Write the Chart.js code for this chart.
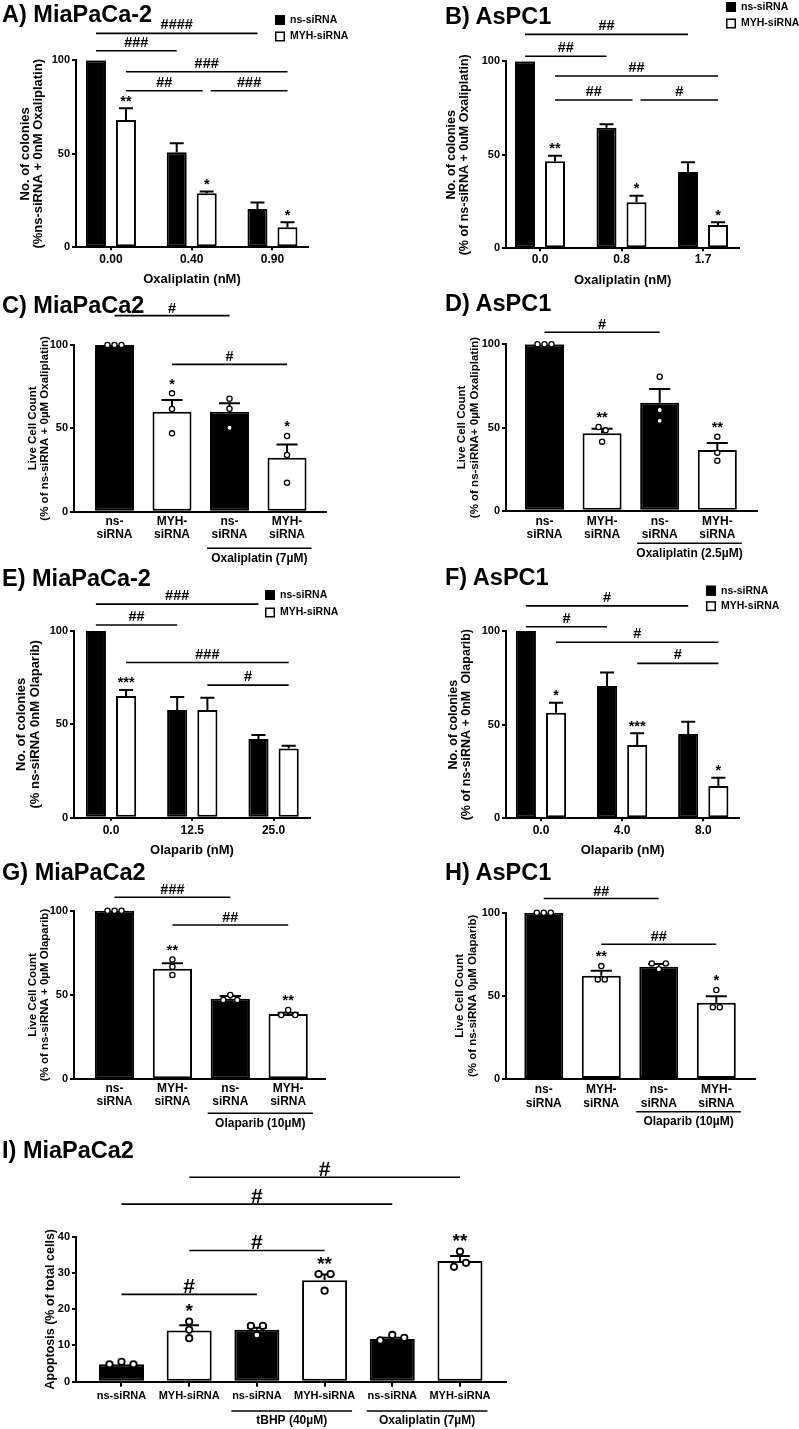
<!DOCTYPE html>
<html>
<head>
<meta charset="utf-8">
<script src="https://cdn.jsdelivr.net/npm/chart.js@4.4.1/dist/chart.umd.min.js"></script>
<style>
  body { margin: 0; background: #fff; width: 799px; height: 1429px; position: relative; overflow: hidden; }
  canvas { position: absolute; }
  .ttl { position: absolute; font-family: 'Liberation Sans', Arial, sans-serif; font-weight: bold; font-size: 23.5px; line-height: 24px; white-space: nowrap; color: #000; }
</style>
</head>
<body>
<script>
const FAM = "'Liberation Sans', Arial, Helvetica, sans-serif"

// ---- data ----
const seriesNames = ['ns-siRNA', 'MYH-siRNA']

// A) MiaPaCa-2 colonies, oxaliplatin
const doseA = ['0.00', '0.40', '0.90']
const nsA = [100, 50.8, 20.5]
const nsSemA = [0, 4.8, 3.4]
const myhA = [68.1, 28.9, 10.7]
const myhSemA = [6.2, 0.9, 2.7]
const starsA = ['**', '*', '*']
const sigA = [[[0, 0], [0, 2], 114.4, '####'], [[0, 0], [0, 1], 105.1, '###'], [[1, 0], [1, 2], 93.9, '###'], [[1, 0], [1, 1], 83.7, '##'], [[1, 1], [1, 2], 83.7, '###']]

// B) AsPC1 colonies, oxaliplatin
const doseB = ['0.0', '0.8', '1.7']
const nsB = [100, 64.5, 40.8]
const nsSemB = [0, 1.8, 5.2]
const myhB = [46.5, 24.6, 12.5]
const myhSemB = [3, 3.5, 1.4]
const starsB = ['**', '*', '*']
const sigB = [[[0, 0], [0, 2], 114.4, '##'], [[0, 0], [0, 1], 102.7, '##'], [[1, 0], [1, 2], 92.1, '##'], [[1, 0], [1, 1], 79.3, '##'], [[1, 1], [1, 2], 79.3, '#']]

// C / D / G / H live cell counts
const cellLabels = [['ns-', 'siRNA'], ['MYH-', 'siRNA'], ['ns-', 'siRNA'], ['MYH-', 'siRNA']]

const meanC = [100, 60, 60, 32.3]
const semC = [0, 7, 5, 8]
const dotsC = [[100, 100, 100], [71, 61.6, 47], [67.8, 61.8, 50.4], [45.4, 34, 17.4]]
const starsC = ['', '*', '', '*']
const sigC = [[0, 2, 117.6, '#'], [1, 3, 88.4, '#']]

const meanD = [100, 46.5, 64.9, 36.5]
const semD = [0, 2.8, 8.2, 4.2]
const dotsD = [[100, 100, 100], [50.3, 41.5, 48.3], [80.5, 60.5, 54], [44.5, 34.9, 30]]
const starsD = ['', '**', '', '**']
const sigD = [[0, 2, 107.2, '#']]

// E) MiaPaCa-2 colonies, olaparib
const doseE = ['0.0', '12.5', '25.0']
const nsE = [100, 57.7, 42.1]
const nsSemE = [0, 6.9, 2.2]
const myhE = [65.2, 57.7, 37.1]
const myhSemE = [3.2, 6.6, 1.5]
const starsE = ['***', '', '']
const sigE = [[[0, 0], [0, 2], 114.4, '###'], [[0, 0], [0, 1], 103.2, '##'], [[1, 0], [1, 2], 83.1, '###'], [[1, 1], [1, 2], 71, '#']]

// F) AsPC1 colonies, olaparib
const doseF = ['0.0', '4.0', '8.0']
const nsF = [100, 70.6, 45]
const nsSemF = [0, 7.2, 6.6]
const myhF = [56.4, 39.1, 17.3]
const myhSemF = [5.3, 6.3, 4.4]
const starsF = ['*', '***', '*']
const sigF = [[[0, 0], [0, 2], 113.4, '#'], [[0, 0], [0, 1], 102.3, '#'], [[1, 0], [1, 2], 94, '#'], [[1, 1], [1, 2], 82.7, '#']]

const meanG = [100, 65.6, 47.8, 38.7]
const semG = [0, 3.2, 1.6, 0.8]
const dotsG = [[100, 100, 100], [71.1, 66.8, 61.9], [47, 50, 47], [38.1, 41.1, 38.1]]
const starsG = ['', '**', '', '**']
const sigG = [[0, 2, 108, '###'], [1, 3, 91.5, '##']]

const meanH = [100, 62.1, 67.5, 45.9]
const semH = [0, 3, 1.6, 3.8]
const dotsH = [[100, 100, 100], [67.9, 59.9, 59.9], [69.5, 66, 69.5], [53.5, 43.1, 43.1]]
const starsH = ['', '**', '', '*']
const sigH = [[0, 2, 108.5, '##'], [1, 3, 81, '##']]

// I) apoptosis
const groupsI = ['ns-siRNA', 'MYH-siRNA', 'ns-siRNA', 'MYH-siRNA', 'ns-siRNA', 'MYH-siRNA']
const meanI = [4.8, 14.1, 14.3, 28, 11.8, 33.3]
const semI = [0, 1.5, 0.6, 1.6, 0.3, 1.4]
const dotsI = [[4.8, 5.5, 4.8], [16.6, 14.3, 12], [15.4, 12.9, 15.4], [29.7, 25.1, 29.7], [11.4, 12.9, 12.1], [31.7, 35.9, 32.8]]
const starsI = ['', '*', '', '**', '', '**']
const sigI = [[1, 5, 56.4, '#'], [0, 4, 49, '#'], [1, 3, 36.2, '#'], [0, 2, 24.1, '#']]
const treatI = [[2, 3, 'tBHP (40µM)'], [4, 5, 'Oxaliplatin (7µM)']]

// ---- helpers ----
function fnt(size, lh) {
    return { family: FAM, size: size, weight: 'bold', lineHeight: lh || 1.2 }
}

function barAt(chart, r) {
    const [d, i] = Array.isArray(r) ? r : [0, r]
    return chart.getDatasetMeta(d).data[i]
}

// beeswarm like layout for the replicate dots of one bar
function swarm(vals, ys, o) {
    const pts = vals.map((v, k) => ({ v, k, py: ys.getPixelForValue(v), dx: 0 }))
    const sorted = [...pts].sort((a, b) => a.py - b.py)
    const bins = []
    sorted.forEach(pt => {
        const last = bins[bins.length - 1]
        if (last && pt.py - last[last.length - 1].py < o.thr) last.push(pt)
        else bins.push([pt])
    })
    bins.forEach(bin => {
        if (bin.length === 2) {
            bin.sort((a, b) => a.k - b.k)
            bin[0].dx = -o.sp / 2
            bin[1].dx = o.sp / 2
        } else if (bin.length >= 3) {
            const med = [...bin].sort((a, b) => a.v - b.v)[1].v
            let c = bin[0]
            bin.forEach(pt => { if (Math.abs(pt.v - med) > Math.abs(c.v - med)) c = pt })
            const rest = bin.filter(pt => pt !== c).sort((a, b) => a.k - b.k)
            rest[0].dx = -o.sp
            rest[1].dx = o.sp
        }
    })
    return pts
}

function marks(p) {
    return {
        id: 'marks',
        afterDatasetsDraw(chart) {
            const ctx = chart.ctx
            const ys = chart.scales.y
            const area = chart.chartArea
            const [L, T] = p.box
            ctx.save()
            ctx.strokeStyle = '#000'
            ctx.fillStyle = '#000'
            const tops = new Map()

            // SEM (upper part only)
            chart.data.datasets.forEach((ds, d) => {
                const sem = p.sem[d]
                chart.getDatasetMeta(d).data.forEach((bar, i) => {
                    let top = bar.y
                    if (sem[i] > 0) {
                        const ey = ys.getPixelForValue(ds.data[i] + sem[i])
                        const cap = bar.width * p.cap
                        ctx.lineWidth = 2
                        ctx.beginPath()
                        ctx.moveTo(bar.x, bar.y)
                        ctx.lineTo(bar.x, ey)
                        ctx.moveTo(bar.x - cap, ey)
                        ctx.lineTo(bar.x + cap, ey)
                        ctx.stroke()
                        top = ey - 1
                    }
                    tops.set(d + ':' + i, top)
                })
            })

            // replicate dots
            if (p.dots) {
                p.dots.forEach((vals, i) => {
                    const bar = barAt(chart, i)
                    swarm(vals, ys, p.dot).forEach(pt => {
                        ctx.beginPath()
                        ctx.arc(bar.x + pt.dx, pt.py, p.dot.r, 0, Math.PI * 2)
                        ctx.fillStyle = '#fff'
                        ctx.fill()
                        ctx.lineWidth = p.dot.lw
                        ctx.strokeStyle = '#000'
                        ctx.stroke()
                        const k = '0:' + i
                        tops.set(k, Math.min(tops.get(k), pt.py - p.dot.r - p.dot.lw / 2))
                    })
                })
            }

            ctx.fillStyle = '#000'
            ctx.strokeStyle = '#000'
            ctx.textAlign = 'center'

            // asterisks
            ctx.textBaseline = 'alphabetic'
            ctx.font = `bold ${p.starSize}px ${FAM}`
            p.stars.forEach((arr, d) => arr.forEach((s, i) => {
                if (!s) return
                const bar = chart.getDatasetMeta(d).data[i]
                ctx.fillText(s, bar.x, tops.get(d + ':' + i) - p.starGap)
            }))

            // # comparison lines
            const key = r => String(Array.isArray(r) ? r : [0, r])
            ctx.font = `bold ${p.hashSize}px ${FAM}`
            ctx.lineWidth = 1.6
            p.sig.forEach(([a, b, level, txt], n) => {
                const shared = r => p.sig.some(([a2, b2, l2], m) => m !== n && l2 === level && (key(a2) === key(r) || key(b2) === key(r)))
                const x1 = barAt(chart, a).x + (shared(a) ? 4 : 0)
                const x2 = barAt(chart, b).x - (shared(b) ? 4 : 0)
                const y = ys.getPixelForValue(level)
                ctx.beginPath()
                ctx.moveTo(x1, y)
                ctx.lineTo(x2, y)
                ctx.stroke()
                ctx.fillText(txt, (x1 + x2) / 2, y - p.hashGap)
            })

            // treatment brackets under the labels
            if (p.treat) {
                ctx.font = `bold 12px ${FAM}`
                ctx.textBaseline = 'middle'
                ctx.lineWidth = 1.6
                p.treat.forEach(([a, b, txt]) => {
                    const ba = barAt(chart, a)
                    const bb = barAt(chart, b)
                    const x1 = ba.x - ba.width / 2 - 3
                    const x2 = bb.x + bb.width / 2 + 5
                    const y = area.bottom + p.treatOff
                    ctx.beginPath()
                    ctx.moveTo(x1, y)
                    ctx.lineTo(x2, y)
                    ctx.stroke()
                    ctx.fillText(txt, (x1 + x2) / 2, y + 10)
                })
            }

            // y axis title
            ctx.font = `bold ${p.yTitleSize}px ${FAM}`
            ctx.textBaseline = 'middle'
            const cy = (area.top + area.bottom) / 2
            p.yTitle.forEach((line, k) => {
                ctx.save()
                ctx.translate(p.yTitleX[k] - L, cy)
                ctx.rotate(-Math.PI / 2)
                ctx.fillText(line, 0, 0)
                ctx.restore()
            })

            // legend
            if (p.legend) {
                const lx = p.legend[0] - L
                const ly = p.legend[1] - T
                ctx.font = `bold 10.5px ${FAM}`
                ctx.textAlign = 'left'
                chart.data.datasets.forEach((ds, d) => {
                    const y = ly + d * (p.legendGap || 16.5)
                    ctx.fillStyle = ds.backgroundColor
                    ctx.fillRect(lx, y - 5, 10, 10)
                    ctx.lineWidth = 1.5
                    ctx.strokeRect(lx + 0.75, y - 4.25, 8.5, 8.5)
                    ctx.fillStyle = '#000'
                    ctx.fillText(ds.label, lx + 15, y)
                })
            }
            ctx.restore()
        }
    }
}

function grouped(ns, myh) {
    return [
        { label: seriesNames[0], data: ns, backgroundColor: '#000' },
        { label: seriesNames[1], data: myh, backgroundColor: '#fff' }
    ]
}

function single(vals, cats) {
    const first = c => Array.isArray(c) ? c[0] : c
    return [{ data: vals, backgroundColor: cats.map(c => first(c).startsWith('ns') ? '#000' : '#fff') }]
}

function panel(p) {
    const [L, T, W, H] = p.box
    const [l, t, r, b] = p.area
    const cv = document.createElement('canvas')
    cv.width = W
    cv.height = H
    cv.style.left = L + 'px'
    cv.style.top = T + 'px'
    cv.style.width = W + 'px'
    cv.style.height = H + 'px'
    document.body.appendChild(cv)

    const xH = p.xTitle ? p.xTitleY - b + 6.5 : 40
    p.datasets.forEach(ds => Object.assign(ds, {
        borderColor: '#000', borderWidth: 2, borderSkipped: false,
        categoryPercentage: p.cat, barPercentage: p.barPct
    }))

    new Chart(cv, {
        type: 'bar',
        data: { labels: p.cats.map((c, i) => i), datasets: p.datasets },
        options: {
            responsive: false,
            animation: false,
            events: [],
            layout: { padding: { left: 0, top: t - T, right: L + W - r, bottom: T + H - b - xH } },
            plugins: { legend: { display: false }, tooltip: { enabled: false } },
            scales: {
                x: {
                    type: 'linear',
                    min: p.xr[0],
                    max: p.xr[1],
                    offset: false,
                    afterBuildTicks: s => { s.ticks = p.cats.map((c, i) => ({ value: i })) },
                    afterFit: s => { s.height = xH },
                    ticks: {
                        callback: v => p.cats[v],
                        autoSkip: false, maxRotation: 0, minRotation: 0,
                        padding: p.xPad, font: fnt(p.xTickSize || 12, 1.1), color: '#000'
                    },
                    grid: {
                        offset: false, drawOnChartArea: false,
                        drawTicks: p.xTick > 0, tickLength: p.xTick, color: '#000', lineWidth: 2
                    },
                    border: { color: '#000', width: 2 },
                    title: p.xTitle
                        ? { display: true, text: p.xTitle, font: fnt(13, 1), padding: 0, color: '#000' }
                        : { display: false }
                },
                y: {
                    min: 0,
                    max: p.yMax,
                    afterFit: s => { s.width = l - L },
                    ticks: { stepSize: p.yStep, padding: 2, font: fnt(11), color: '#000' },
                    grid: { drawOnChartArea: false, tickLength: 4, color: '#000', lineWidth: 2 },
                    border: { color: '#000', width: 2 }
                }
            }
        },
        plugins: [marks(p)]
    })
}

const groupedStyle = { cat: 0.743, barPct: 0.667, cap: 0.35, yMax: 100, yStep: 50, xTick: 3, starSize: 14.5, starGap: 1.5, hashSize: 14.5, hashGap: 4 }
const cellStyle = { cat: 1, barPct: 0.678, cap: 0.27, yMax: 100, yStep: 50, xTick: 0, starSize: 14.5, starGap: 1.5, hashSize: 14.5, hashGap: 3, yTitleSize: 11.5, dot: { r: 2.6, lw: 1.3, thr: 6, sp: 7 } }

panel({ ...groupedStyle, box: [0, 0, 400, 290], area: [76, 60.3, 308, 247.3], xr: [-0.433, 2.44],
    cats: doseA, datasets: grouped(nsA, myhA), sem: [nsSemA, myhSemA], stars: [[], starsA], sig: sigA,
    yTitle: ['No. of colonies', '(%ns-siRNA + 0nM Oxaliplatin)'], yTitleX: [25, 38], yTitleSize: 13,
    xTitle: 'Oxaliplatin (nM)', xTitleY: 279, xPad: 2.5, legend: [275, 20] })

panel({ ...groupedStyle, box: [400, 0, 399, 290], area: [506, 61.3, 739.3, 248.3], xr: [-0.417, 2.445], cat: 0.736,
    cats: doseB, datasets: grouped(nsB, myhB), sem: [nsSemB, myhSemB], stars: [[], starsB], sig: sigB,
    yTitle: ['No. of colonies', '(% of ns-siRNA + 0uM Oxaliplatin)'], yTitleX: [451.7, 465], yTitleSize: 12.5,
    xTitle: 'Oxaliplatin (nM)', xTitleY: 280, xPad: 1.5, legend: [726, 7] })

panel({ ...cellStyle, box: [0, 290, 400, 280], area: [74, 345, 326, 511.7], xr: [-0.704, 3.678],
    cats: cellLabels, datasets: single(meanC, cellLabels), sem: [semC], stars: [starsC], dots: dotsC, sig: sigC,
    yTitle: ['Live Cell Count', '(% of ns-siRNA + 0µM Oxaliplatin)'], yTitleX: [33.3, 45],
    xPad: 3.5, treat: [[2, 3, 'Oxaliplatin (7µM)']], treatOff: 36.6 })

panel({ ...cellStyle, box: [400, 290, 399, 280], area: [506, 344.3, 756.7, 510.7], xr: [-0.668, 3.684],
    cats: cellLabels, datasets: single(meanD, cellLabels), sem: [semD], stars: [starsD], dots: dotsD, sig: sigD,
    yTitle: ['Live Cell Count', '(% of ns-siRNA+ 0µM Oxaliplatin)'], yTitleX: [461.7, 475],
    xPad: 4.5, treat: [[2, 3, 'Oxaliplatin (2.5µM)']], treatOff: 32.6 })

panel({ ...groupedStyle, box: [0, 565, 400, 295], area: [74, 631, 310, 817.7], xr: [-0.455, 2.448],
    cats: doseE, datasets: grouped(nsE, myhE), sem: [nsSemE, myhSemE], stars: [[], starsE], sig: sigE,
    yTitle: ['No. of colonies', '(% ns-siRNA 0nM Olaparib)'], yTitleX: [21.7, 35], yTitleSize: 13,
    xTitle: 'Olaparib (nM)', xTitleY: 850, xPad: 3.5, legend: [265, 595], legendGap: 17.5 })

panel({ ...groupedStyle, box: [400, 565, 399, 295], area: [506, 631, 739.3, 818.3], xr: [-0.431, 2.444],
    cats: doseF, datasets: grouped(nsF, myhF), sem: [nsSemF, myhSemF], stars: [[], starsF], sig: sigF,
    yTitle: ['No. of colonies', '(% of ns-siRNA + 0nM  Olaparib)'], yTitleX: [453.3, 466.7], yTitleSize: 12.5,
    xTitle: 'Olaparib (nM)', xTitleY: 850, xPad: 3.2, legend: [706, 590.7], legendGap: 15.5 })

panel({ ...cellStyle, box: [0, 860, 400, 280], area: [74, 910.7, 325, 1079.3], xr: [-0.7, 3.636],
    cats: cellLabels, datasets: single(meanG, cellLabels), sem: [semG], stars: [starsG], dots: dotsG, sig: sigG,
    yTitle: ['Live Cell Count', '(% of ns-siRNA + 0µM Olaparib)'], yTitleX: [33.3, 44.8],
    xPad: 2.5, treat: [[2, 3, 'Olaparib (10µM)']], treatOff: 34 })

panel({ ...cellStyle, box: [400, 860, 399, 280], area: [506, 912.7, 755, 1079], xr: [-0.657, 3.673],
    cats: cellLabels, datasets: single(meanH, cellLabels), sem: [semH], stars: [starsH], dots: dotsH, sig: sigH,
    yTitle: ['Live Cell Count', '(% of ns-siRNA 0µM Olaparib)'], yTitleX: [460, 473.3],
    xPad: 4.5, treat: [[2, 3, 'Olaparib (10µM)']], treatOff: 32.7 })

panel({ ...cellStyle, box: [0, 1140, 799, 289], area: [76, 1236.7, 506, 1381.7], xr: [-0.672, 5.68],
    barPct: 0.665, cap: 0.22, yMax: 40, yStep: 10, xTick: 5, xTickSize: 11, xPad: 3.4,
    cats: groupsI, datasets: single(meanI, groupsI), sem: [semI], stars: [starsI], dots: dotsI, sig: sigI,
    yTitle: ['Apoptosis (% of total cells)'], yTitleX: [50.7], yTitleSize: 12.5,
    treat: treatI, treatOff: 29.3, dot: { r: 3.2, lw: 1.8, thr: 7, sp: 12 },
    starSize: 19, starGap: 0, hashSize: 21, hashGap: 1 })

// panel letters
const panelTitles = [
    ['A) MiaPaCa-2', 2, 13.3], ['B) AsPC1', 445, 15],
    ['C) MiaPaCa2', 2, 304], ['D) AsPC1', 445, 302.5],
    ['E) MiaPaCa-2', 2, 577.5], ['F) AsPC1', 445, 576.7],
    ['G) MiaPaCa2', 2, 871], ['H) AsPC1', 445, 871.5],
    ['I) MiaPaCa2', 2, 1149.7]
]
panelTitles.forEach(([txt, x, cy]) => {
    const d = document.createElement('div')
    d.className = 'ttl'
    d.textContent = txt
    d.style.left = x + 'px'
    d.style.top = (cy - 11.5) + 'px'
    document.body.appendChild(d)
})
</script>
</body>
</html>
